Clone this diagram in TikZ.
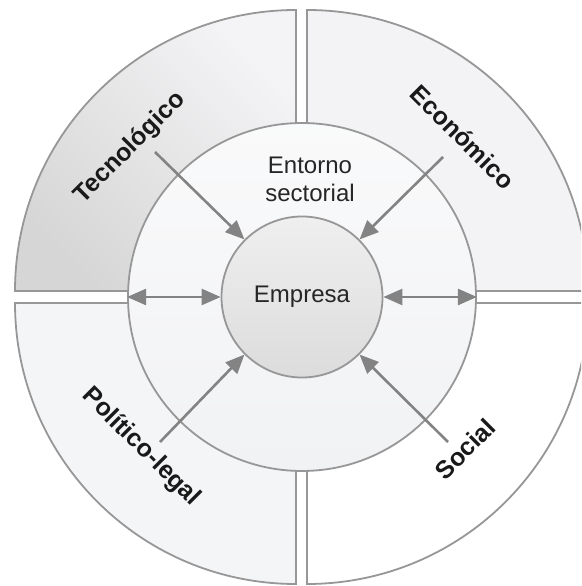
\documentclass[tikz,border=0pt]{standalone}
\usepackage{fontspec}
\setmainfont{Liberation Sans}
\usetikzlibrary{arrows.meta}
\definecolor{edge}{HTML}{979797}
\definecolor{arr}{HTML}{838383}
\definecolor{tlA}{HTML}{D6D6D6}
\definecolor{tlB}{HTML}{F4F4F6}
\definecolor{trF}{HTML}{F3F3F5}
\definecolor{blF}{HTML}{F4F5F7}
\definecolor{midF}{HTML}{F1F2F4}
\definecolor{innA}{HTML}{EFEFEF}
\definecolor{innB}{HTML}{DCDCDC}
\tikzset{
  sector/.style={draw=edge, line width=1.8pt, line join=miter},
  ring/.style={circle, draw=edge, line width=1.8pt, inner sep=0pt},
  influence/.style={draw=arr, line width=2.6pt, -{Triangle[length=19pt,width=16pt]}},
  twoway/.style={draw=arr, line width=2.6pt, {Triangle[length=19pt,width=16pt]}-{Triangle[length=19pt,width=16pt]}},
  factor/.style={font=\fontsize{25}{29}\selectfont\bfseries, text=black!90, inner sep=0pt},
  plain/.style={font=\fontsize{24}{29}\selectfont, text=black!85, align=center}
}
\begin{document}
\begin{tikzpicture}[x=1pt,y=1pt]
\useasboundingbox (0,0) rectangle (581,586);
\clip (0,0) rectangle (581,586);
\fill[white] (0,0) rectangle (581,586);
% sectors
\shade[sector, top color=tlB, bottom color=tlA, shading angle=-45]
  (296,295) -- (15,295) arc[start angle=180, end angle=90, radius=281] -- cycle;
\path[sector, fill=trF]
  (307,295) -- (307,576) arc[start angle=90, end angle=0, radius=281] -- cycle;
\path[sector, fill=blF]
  (296,283) -- (296,2) arc[start angle=270, end angle=180, radius=281] -- cycle;
\path[sector, fill=white]
  (307,283) -- (588,283) arc[start angle=0, end angle=-90, radius=281] -- cycle;
% circles
\node[ring, minimum size=348pt, top color=white!60!midF, bottom color=midF] (ent) at (302,289) {};
\node[ring, minimum size=161pt, top color=innA, bottom color=innB, plain] (emp) at (302,289) {Empresa};
\node[plain] (entlabel) at (310,407) {Entorno\\[-1pt]sectorial};
% labels
\node[factor, rotate=45] (tec) at (130,438) {Tecnológico};
\node[factor, rotate=-45] (eco) at (463,449) {Económico};
\node[factor, rotate=-45] (pol) at (141,139) {Político-legal};
\node[factor, rotate=45] (soc) at (465,137) {Social};
% arrow starts
\coordinate (tecS) at (155,434);
\coordinate (ecoS) at (443,429);
\coordinate (polS) at (160,144);
\coordinate (socS) at (448,144);
\draw[influence] (tecS) -- (emp.135);
\draw[influence] (ecoS) -- (emp.45);
\draw[influence] (polS) -- (emp.225);
\draw[influence] (socS) -- (emp.315);
\draw[twoway] (ent.180) -- (emp.180);
\draw[twoway] (emp.0) -- (ent.0);
\end{tikzpicture}
\end{document}
